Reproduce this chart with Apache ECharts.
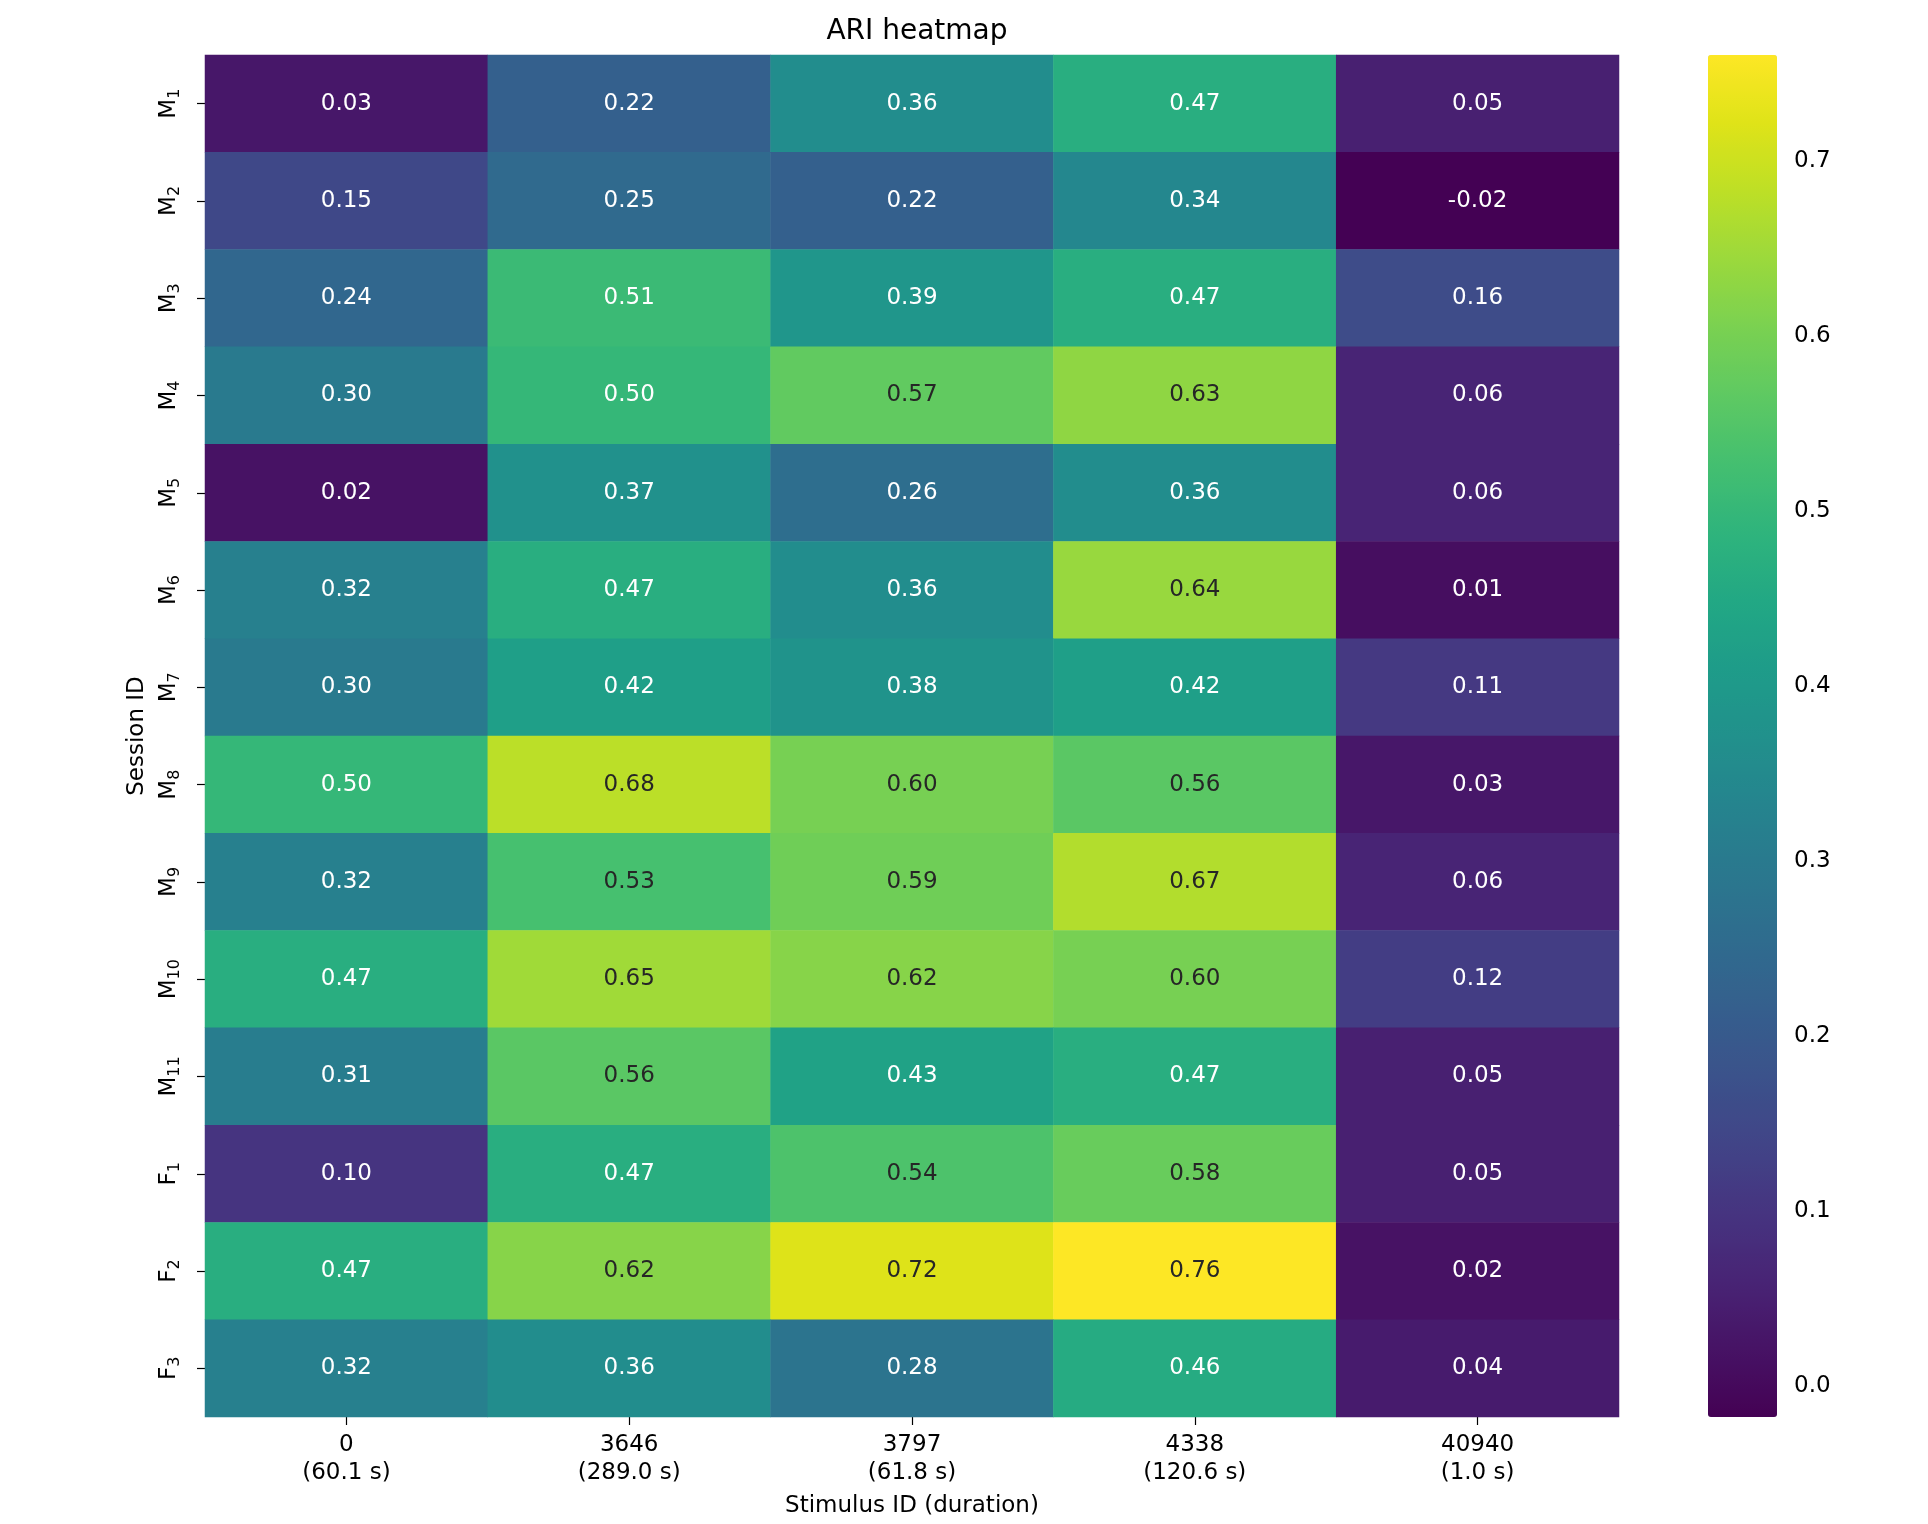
<!DOCTYPE html>
<html>
<head>
<meta charset="utf-8">
<script src="https://cdn.jsdelivr.net/npm/echarts@6/dist/echarts.min.js"></script>
<style>
html,body{margin:0;padding:0;background:#fff;}
#chart{width:1928px;height:1524px;}
</style>
</head>
<body>
<div id="chart"></div>
<script>
const stimulusIds = ['0', '3646', '3797', '4338', '40940'];
const durations = ['60.1 s', '289.0 s', '61.8 s', '120.6 s', '1.0 s'];
const sessionIds = ['M1','M2','M3','M4','M5','M6','M7','M8','M9','M10','M11','F1','F2','F3'];
const ariValues = [
  [0.03, 0.22, 0.36, 0.47, 0.05],
  [0.15, 0.25, 0.22, 0.34, -0.02],
  [0.24, 0.51, 0.39, 0.47, 0.16],
  [0.30, 0.50, 0.57, 0.63, 0.06],
  [0.02, 0.37, 0.26, 0.36, 0.06],
  [0.32, 0.47, 0.36, 0.64, 0.01],
  [0.30, 0.42, 0.38, 0.42, 0.11],
  [0.50, 0.68, 0.60, 0.56, 0.03],
  [0.32, 0.53, 0.59, 0.67, 0.06],
  [0.47, 0.65, 0.62, 0.60, 0.12],
  [0.31, 0.56, 0.43, 0.47, 0.05],
  [0.10, 0.47, 0.54, 0.58, 0.05],
  [0.47, 0.62, 0.72, 0.76, 0.02],
  [0.32, 0.36, 0.28, 0.46, 0.04]
];
const colorbarTicks = [0.0, 0.1, 0.2, 0.3, 0.4, 0.5, 0.6, 0.7];
const vmin = -0.0177, vmax = 0.7605;

const viridis = ['#440154','#471365','#482475','#463480','#414487','#3b528b','#355f8d','#2f6c8e','#2a788e','#25848e','#21918c','#1e9c89','#22a884','#2fb47c','#44bf70','#5ec962','#7ad151','#9bd93c','#bddf26','#dfe318','#fde725'];

const FONT = 'DejaVu Sans';
const FS = 23;
const data = [];
ariValues.forEach((row, r) => {
  row.forEach((v, c) => {
    data.push({
      value: [c, r, v],
      label: { color: v > 0.52 ? '#262626' : '#ffffff' }
    });
  });
});

const chart = echarts.init(document.getElementById('chart'), null, {renderer: 'canvas'});
chart.setOption({
  animation: false,
  backgroundColor: '#ffffff',
  title: {
    text: 'ARI heatmap',
    left: 912, top: 13, textAlign: 'center',
    textStyle: { fontFamily: FONT, fontSize: 28, fontWeight: 'normal', color: '#000' }
  },
  grid: [
    { left: 205, top: 55, width: 1414, height: 1362, containLabel: false },
    { left: 1708, top: 55, width: 69, height: 1362, containLabel: false }
  ],
  xAxis: [
    {
      type: 'category', gridIndex: 0,
      data: stimulusIds.map((s, i) => s + '\n(' + durations[i] + ')'),
      name: 'Stimulus ID (duration)', nameLocation: 'middle', nameGap: 78,
      nameTextStyle: { fontFamily: FONT, fontSize: FS, color: '#000' },
      axisLine: { show: false },
      axisTick: { show: true, alignWithLabel: true, interval: 0, length: 8, lineStyle: { color: '#000', width: 1.2 } },
      axisLabel: { fontFamily: FONT, fontSize: FS, color: '#000', margin: 14, lineHeight: 28, interval: 0, hideOverlap: false },
      splitLine: { show: false }
    },
    { type: 'value', gridIndex: 1, show: false, min: 0, max: 1 }
  ],
  yAxis: [
    {
      type: 'category', gridIndex: 0, inverse: true,
      data: sessionIds,
      name: 'Session ID', nameLocation: 'middle', nameGap: 56, nameRotate: 90,
      nameTextStyle: { fontFamily: FONT, fontSize: FS, color: '#000' },
      axisLine: { show: false },
      axisTick: { show: true, alignWithLabel: true, interval: 0, length: 8, lineStyle: { color: '#000', width: 1.2 } },
      axisLabel: {
        fontFamily: FONT, fontSize: FS, color: '#000', rotate: 90, margin: 22,
        interval: 0, hideOverlap: false,
        formatter: v => '{b|' + v.charAt(0) + '}{s|' + v.slice(1) + '}',
        rich: {
          b: { fontFamily: FONT, fontSize: FS, color: '#000' },
          s: { fontFamily: FONT, fontSize: 16, color: '#000', padding: [12, 0, 0, 0] }
        }
      },
      splitLine: { show: false }
    },
    {
      type: 'value', gridIndex: 1, position: 'right',
      min: vmin, max: vmax,
      axisLine: { show: false },
      axisTick: { show: true, length: 8, customValues: colorbarTicks, lineStyle: { color: '#000', width: 1.2 } },
      axisLabel: { fontFamily: FONT, fontSize: FS, color: '#000', margin: 17,
        customValues: colorbarTicks, formatter: v => v.toFixed(1) },
      splitLine: { show: false }
    }
  ],
  visualMap: {
    type: 'continuous',
    seriesIndex: 0,
    min: vmin, max: vmax,
    show: true,
    calculable: false,
    orient: 'vertical',
    left: 1708, top: 55,
    itemWidth: 69, itemHeight: 1362,
    padding: 0,
    text: null,
    showLabel: false,
    inRange: { color: viridis }
  },
  series: [
    {
      type: 'heatmap',
      xAxisIndex: 0, yAxisIndex: 0,
      data: data,
      itemStyle: { borderWidth: 0 },
      label: {
        show: true,
        fontFamily: FONT, fontSize: FS,
        formatter: p => p.value[2].toFixed(2)
      },
      emphasis: { disabled: true }
    },
    {
      type: 'line', xAxisIndex: 1, yAxisIndex: 1, data: [], silent: true
    }
  ]
});
</script>
</body>
</html>
